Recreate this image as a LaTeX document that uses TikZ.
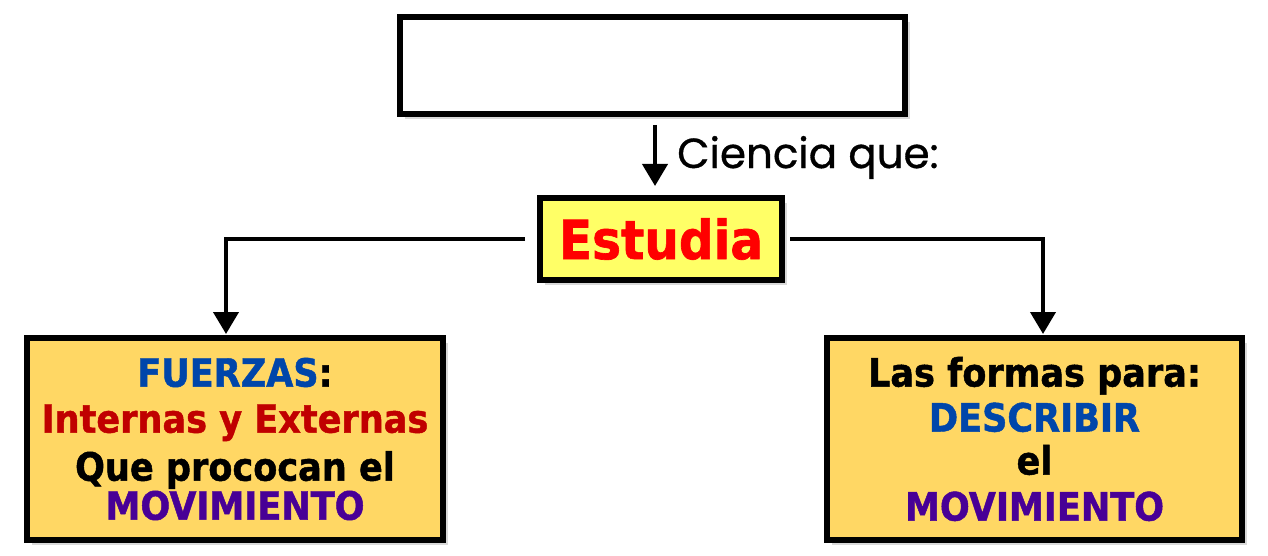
\documentclass[tikz,border=0pt]{standalone}
\usepackage{fontspec}
\setmainfont{DejaVu Sans}
\newfontfamily\boxfont{DejaVu Sans Condensed}[BoldFont={DejaVu Sans Condensed Bold},BoldFeatures={FakeBold=1.2}]
\newfontfamily\labfont{Poppins}[FakeBold=0.8]
\usetikzlibrary{arrows.meta,shadows}
\definecolor{boxyellow}{RGB}{255,255,102}
\definecolor{boxorange}{RGB}{255,215,100}
\definecolor{tblue}{RGB}{0,70,170}
\definecolor{tred}{RGB}{192,0,0}
\definecolor{tpurple}{RGB}{72,0,150}
\begin{document}
\begin{tikzpicture}[x=1pt,y=-1pt,
  box/.style={draw=black, line width=6pt, rectangle, inner sep=0pt,
    drop shadow={shadow xshift=5pt, shadow yshift=-5pt, opacity=.25, fill=black!60}},
  conn/.style={line width=4pt, -{Triangle[width=25pt,length=22pt]}},
  boxtext/.style={align=center, font=\boxfont\bfseries\fontsize{39}{46}\selectfont}
]
\useasboundingbox (0,0) rectangle (1268,556);
\node[box, fill=white, minimum width=505pt, minimum height=97pt] (T) at (652.5,65.5) {};
\node[box, fill=boxyellow, minimum width=242pt, minimum height=82pt,
  font=\boxfont\bfseries\fontsize{54}{60}\selectfont, text=red] (E) at (661,239) {Estudia};
\node[box, fill=boxorange, minimum width=416pt, minimum height=202pt, boxtext] (L) at (235,439)
  {\textcolor{tblue}{FUERZAS}:\\\textcolor{tred}{Internas y Externas}\\[2pt]Que prococan el\\[-7pt]\textcolor{tpurple}{MOVIMIENTO}};
\node[box, fill=boxorange, minimum width=415pt, minimum height=202pt, boxtext] (R) at (1034.5,439)
  {Las formas para:\\[-1pt]\textcolor{tblue}{DESCRIBIR}\\[-3pt]el\\\textcolor{tpurple}{MOVIMIENTO}};
\node[anchor=base west, inner sep=0pt, font=\labfont\fontsize{42}{48}\selectfont] (C) at (677,168) {Ciencia que:};
\draw[conn, shorten <=8pt, shorten >=9pt] ([xshift=2.5pt]T.south) -- ([xshift=-6pt]E.north);
\draw[conn, shorten <=12pt, shorten >=1pt] (E.west) -| ([xshift=-9pt]L.north);
\draw[conn, shorten <=5pt, shorten >=1pt] (E.east) -| ([xshift=8.5pt]R.north);
\end{tikzpicture}
\end{document}
